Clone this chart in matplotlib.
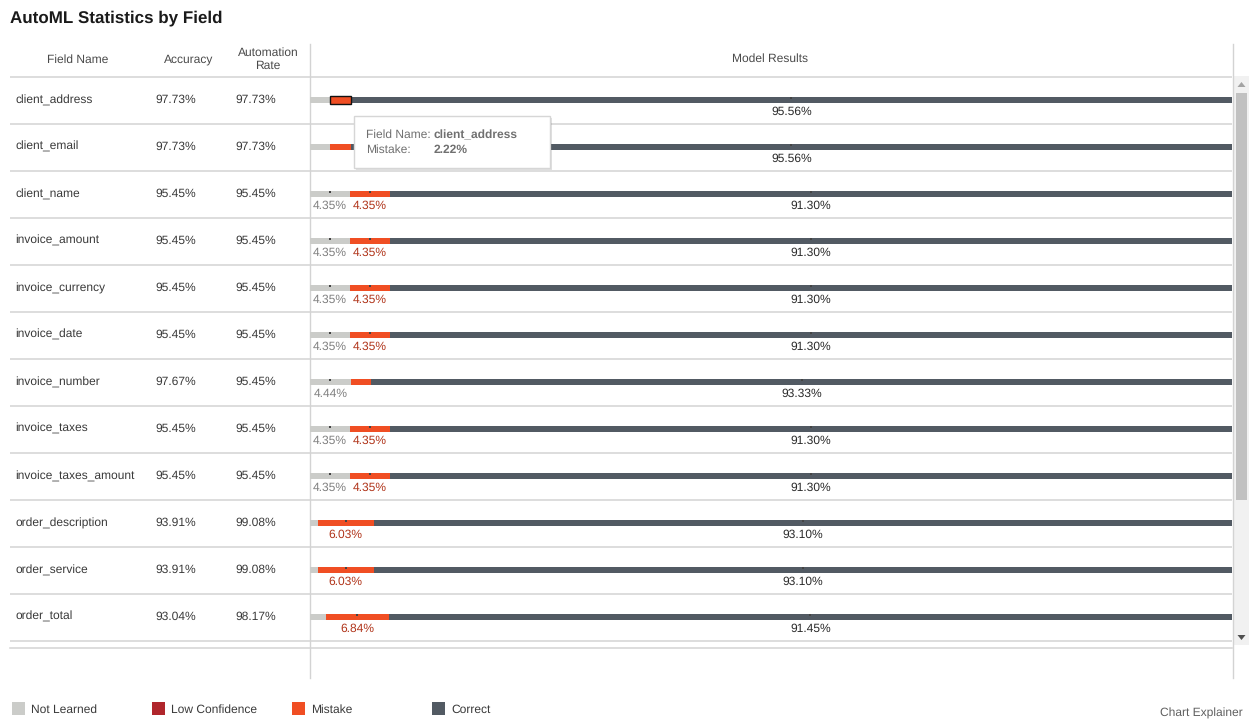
import matplotlib
matplotlib.use("Agg")
import matplotlib.pyplot as plt
from matplotlib.patches import Rectangle, FancyBboxPatch, Polygon
import numpy as np

plt.rcParams['font.family'] = ['Liberation Sans', 'DejaVu Sans']
plt.rcParams['text.hinting'] = 'no_hinting'
plt.rcParams['text.hinting_factor'] = 1

# ---------------- data ----------------
fields = ["client_address", "client_email", "client_name", "invoice_amount",
          "invoice_currency", "invoice_date", "invoice_number", "invoice_taxes",
          "invoice_taxes_amount", "order_description", "order_service", "order_total"]
accuracy = ["97.73%", "97.73%", "95.45%", "95.45%", "95.45%", "95.45%",
            "97.67%", "95.45%", "95.45%", "93.91%", "93.91%", "93.04%"]
automation = ["97.73%", "97.73%", "95.45%", "95.45%", "95.45%", "95.45%",
              "95.45%", "95.45%", "95.45%", "99.08%", "99.08%", "98.17%"]
not_learned = [2.22, 2.22, 4.35, 4.35, 4.35, 4.35, 4.44, 4.35, 4.35, 0.87, 0.87, 1.71]
low_conf = [0, 0, 0, 0, 0, 0, 0, 0, 0, 0, 0, 0]
mistake = [2.22, 2.22, 4.35, 4.35, 4.35, 4.35, 2.22, 4.35, 4.35, 6.03, 6.03, 6.84]
correct = [95.56, 95.56, 91.30, 91.30, 91.30, 91.30, 93.33, 91.30, 91.30, 93.10, 93.10, 91.45]
series_names = ["Not Learned", "Low Confidence", "Mistake", "Correct"]
series_colors = ["#cbccc9", "#b0262c", "#f04e23", "#525a63"]
label_colors = ["#808080", "#9e2024", "#b0341a", "#2a2a2a"]

W, H = 1255, 724
fig = plt.figure(figsize=(W / 100, H / 100), dpi=100)
bg = fig.add_axes([0, 0, 1, 1])
bg.set_xlim(0, W)
bg.set_ylim(H, 0)
bg.axis('off')

line_c = "#d3d3d3"
txt_c = "#3a3a3a"
hdr_c = "#4a4a4a"
fs = 8.8

# title
bg.text(10, 18, "AutoML Statistics by Field", fontsize=12.3, fontweight='bold',
        color="#1a1a1a", va='center', ha='left')

# headers
bg.text(78, 59.5, "Field Name", fontsize=fs, color=hdr_c, ha='center', va='center')
bg.text(189, 59.5, "Accuracy", fontsize=fs, color=hdr_c, ha='center', va='center')
bg.text(268, 59, "Automation\nRate", fontsize=fs, color=hdr_c, ha='center', va='center',
        linespacing=1.25)
bg.text(770, 58.5, "Model Results", fontsize=fs, color=hdr_c, ha='center', va='center')

# grid lines
row_top = 76.5
row_h = 47
n = len(fields)
for i in range(n + 1):
    y = row_top + i * row_h
    bg.plot([10, 1232], [y, y], color=line_c, lw=1.1, solid_capstyle='butt')
bg.plot([10, 1232], [647.5, 647.5], color=line_c, lw=1.1)
bg.plot([310, 310], [44, 678], color=line_c, lw=1.0)
bg.plot([1232.5, 1232.5], [44, 678], color=line_c, lw=1.0)

# table text
for i, f in enumerate(fields):
    yc = row_top + i * row_h + 23.5
    bg.text(15, yc, f, fontsize=fs, color=txt_c, ha='left', va='center')
    bg.text(155, yc, accuracy[i], fontsize=fs, color=txt_c, ha='left', va='center')
    bg.text(235, yc, automation[i], fontsize=fs, color=txt_c, ha='left', va='center')

# scrollbar
bg.add_patch(Rectangle((1234, 76), 15, 569, facecolor="#f1f1f1", edgecolor='none'))
bg.add_patch(Rectangle((1236, 93), 11, 407, facecolor="#c1c1c1", edgecolor='none'))
bg.add_patch(Polygon([[1237.5, 87], [1245.5, 87], [1241.5, 82]], closed=True,
                     facecolor="#a3a3a3", edgecolor='none'))
bg.add_patch(Polygon([[1237.5, 635], [1245.5, 635], [1241.5, 640]], closed=True,
                     facecolor="#505050", edgecolor='none'))

# bars axes
ax = fig.add_axes([310 / W, 1 - (row_top + n * row_h) / H, 922 / W, n * row_h / H])
ax.set_xlim(0, 100)
ax.set_ylim(n, 0)
ax.axis('off')
ax.patch.set_alpha(0)

ypos = np.arange(n) + 0.5
bar_h = 0.13
data = [not_learned, low_conf, mistake, correct]
left = np.zeros(n)
for k, vals in enumerate(data):
    vals = np.array(vals, dtype=float)
    ax.barh(ypos, vals, left=left, height=bar_h, color=series_colors[k],
            edgecolor='none', linewidth=0)
    for i in range(n):
        v = vals[i]
        if v >= 4:
            cx = left[i] + v / 2
            ax.text(cx, ypos[i] + 0.26, f"{v:.2f}%", fontsize=fs,
                    color=label_colors[k], ha='center', va='center')
            ax.plot([cx], [ypos[i] - bar_h / 2 + 0.015], marker='s', markersize=1.5,
                    color="#444444", markeredgewidth=0)
    left = left + vals

# highlighted (hovered) segment
ax.barh([ypos[0]], [mistake[0]], left=[not_learned[0] + low_conf[0]], height=bar_h * 1.15,
        color=series_colors[2], edgecolor='#111111', linewidth=1.0)

# overlay for tooltip
top = fig.add_axes([0, 0, 1, 1])
top.set_xlim(0, W)
top.set_ylim(H, 0)
top.axis('off')
top.patch.set_alpha(0)
shadow = FancyBboxPatch((355.5, 117.5), 196, 52, boxstyle="square,pad=0",
                        facecolor="#000000", alpha=0.12, edgecolor='none')
top.add_patch(shadow)
tip = FancyBboxPatch((354, 116), 196, 52, boxstyle="square,pad=0",
                     facecolor="white", edgecolor="#d6d6d6", linewidth=1)
top.add_patch(tip)
tip_c = "#707070"
top.text(366, 135, "Field Name:", fontsize=fs, color=tip_c, ha='left', va='center')
top.text(434, 135, fields[0], fontsize=fs, color=tip_c, ha='left', va='center',
         fontweight='bold')
top.text(366, 149.5, "Mistake:", fontsize=fs, color=tip_c, ha='left', va='center')
top.text(434, 149.5, f"{mistake[0]:.2f}%", fontsize=fs, color=tip_c, ha='left',
         va='center', fontweight='bold')

# legend
leg_x = [12, 152, 292, 432]
for k, name in enumerate(series_names):
    bg.add_patch(Rectangle((leg_x[k], 702), 13, 13, facecolor=series_colors[k],
                           edgecolor='none'))
    bg.text(leg_x[k] + 19, 709.5, name, fontsize=fs, color=txt_c, ha='left',
            va='center')

bg.text(1243, 713, "Chart Explainer", fontsize=fs, color="#606060", ha='right',
        va='center')

fig.savefig("out.png", dpi=100)
